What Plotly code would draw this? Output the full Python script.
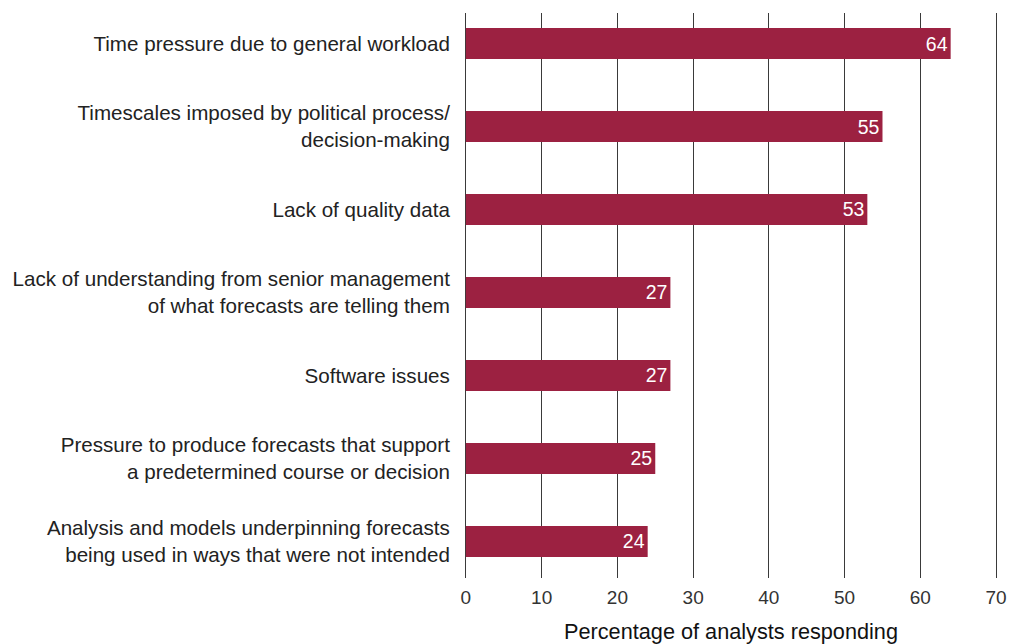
import plotly.graph_objects as go

# Survey responses: obstacles faced by forecasting analysts
categories = [
    "Time pressure due to general workload",
    "Timescales imposed by political process/<br>decision-making",
    "Lack of quality data",
    "Lack of understanding from senior management<br>of what forecasts are telling them",
    "Software issues",
    "Pressure to produce forecasts that support<br>a predetermined course or decision",
    "Analysis and models underpinning forecasts<br>being used in ways that were not intended",
]
values = [64, 55, 53, 27, 27, 25, 24]
x_ticks = [0, 10, 20, 30, 40, 50, 60, 70]

positions = list(range(len(categories)))
font_family = "Liberation Sans, Arial, sans-serif"
bar_color = "#9c2141"

fig = go.Figure(
    go.Bar(
        x=values,
        y=positions,
        orientation="h",
        width=0.375,
        marker=dict(color=bar_color, line=dict(width=0)),
        text=[str(v) for v in values],
        textposition="inside",
        insidetextanchor="end",
        textfont=dict(family=font_family, size=19.5, color="white"),
        cliponaxis=False,
    )
)

fig.update_layout(
    width=1010,
    height=644,
    margin=dict(l=464, r=12, t=13, b=66),
    paper_bgcolor="white",
    plot_bgcolor="white",
    showlegend=False,
    font=dict(family=font_family, color="#222222"),
    xaxis=dict(
        # small padding on both ends keeps the 0 and 70 gridlines visible
        range=[-0.25, 70.25],
        tickvals=x_ticks,
        ticktext=[str(t) for t in x_ticks],
        showgrid=True,
        gridcolor="#3a3a3a",
        gridwidth=1,
        zeroline=False,
        showline=False,
        automargin=False,
        ticks="outside",
        ticklen=2,
        tickcolor="rgba(0,0,0,0)",
        tickfont=dict(size=19, color="#333333"),
        title=dict(
            text="Percentage of analysts responding",
            font=dict(size=21.7, color="#111111"),
            standoff=25,
        ),
    ),
    yaxis=dict(
        range=[6.44, -0.3675],
        tickvals=positions,
        ticktext=categories,
        showgrid=False,
        zeroline=False,
        showline=False,
        automargin=False,
        ticks="outside",
        ticklen=9,
        tickcolor="rgba(0,0,0,0)",
        tickfont=dict(size=20.6, color="#222222"),
    ),
)

fig.write_html("out.html")
